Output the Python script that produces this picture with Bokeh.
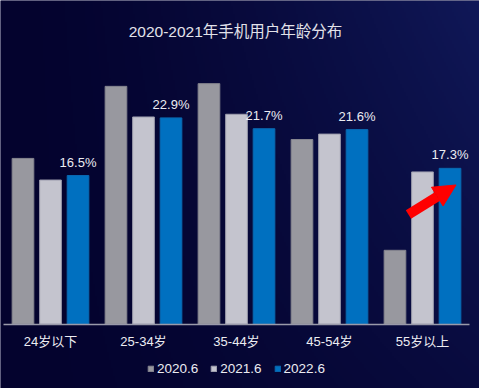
import numpy as np
from bokeh.plotting import figure
from bokeh.models import (ColumnDataSource, Range1d, FixedTicker, Legend, LegendItem, LabelSet,
                          Label, Arrow, NormalHead)
from bokeh.transform import dodge
from bokeh.core.properties import value
from bokeh.embed import file_html
from bokeh.resources import INLINE

# ---- data ----
title_text = "2020-2021年手机用户年龄分布"
categories = ["24岁以下", "25-34岁", "35-44岁", "45-54岁", "55岁以上"]
series_names = ["2020.6", "2021.6", "2022.6"]
v2020 = [18.4, 26.4, 26.7, 20.5, 8.2]
v2021 = [16.0, 23.0, 23.3, 21.1, 16.9]
v2022 = [16.5, 22.9, 21.7, 21.6, 17.3]
value_labels = ["16.5%", "22.9%", "21.7%", "21.6%", "17.3%"]

FONT = "Liberation Sans, Noto Sans CJK SC, sans-serif"
BG = "#06073a"
TXT = "#ececf2"
C2020, C2021, C2022 = "#98989f", "#c4c4ce", "#0070c0"

W, H = 479, 388
X0, X1 = -0.5376, 4.613
Y0, Y1 = -7.14, 35.93

xs = list(range(len(categories)))
src = ColumnDataSource(dict(x=xs, v2020=v2020, v2021=v2021, v2022=v2022, lbl=value_labels))

p = figure(width=W, height=H, x_range=Range1d(X0, X1), y_range=Range1d(Y0, Y1),
           output_backend="svg", toolbar_location=None, y_axis_location=None, title_location=None,
           min_border_left=0, min_border_right=0, min_border_top=0, min_border_bottom=0,
           background_fill_color=BG, border_fill_color=BG, outline_line_color=None)
p.xgrid.visible = False
p.ygrid.visible = False

# background gradient (dark navy left -> lighter blue top-right)
gh, gw = H // 2, W // 2
fx = np.linspace(0, 1, gw)[None, :]
fy = np.linspace(0, 1, gh)[:, None]          # 0 bottom, 1 top
t = (fx ** 1.5) * (0.4 + 0.6 * fy)
dark = np.array([4, 3, 46]); light = np.array([16, 24, 88])
rgb = dark[None, None, :] + t[:, :, None] * (light - dark)[None, None, :]
img = np.empty((gh, gw), dtype=np.uint32)
view = img.view(dtype=np.uint8).reshape((gh, gw, 4))
view[:, :, 0] = rgb[:, :, 0]; view[:, :, 1] = rgb[:, :, 1]; view[:, :, 2] = rgb[:, :, 2]; view[:, :, 3] = 255
p.image_rgba(image=[img], x=X0, y=Y0, dw=X1 - X0, dh=Y1 - Y0)

title = Label(x=W / 2 - 4.5, y=H - 31, x_units="screen", y_units="screen", text=title_text,
              text_align="center", text_baseline="middle",
              text_font=FONT, text_font_size="15.5px", text_color="#e2e2ea")
p.add_layout(title)

off, w = 0.296, 0.233
r1 = p.vbar(x=dodge("x", -off, range=p.x_range), top="v2020", width=w, source=src,
            fill_color=C2020, line_color="#85858f", line_width=1)
r2 = p.vbar(x=dodge("x", 0, range=p.x_range), top="v2021", width=w, source=src,
            fill_color=C2021, line_color="#9e9eae", line_width=1)
r3 = p.vbar(x=dodge("x", off, range=p.x_range), top="v2022", width=w, source=src,
            fill_color=C2022, line_color="#0a68b0", line_width=1)

labels = LabelSet(x=dodge("x", off, range=p.x_range), y="v2022", text="lbl", source=src,
                  text_align="center", text_baseline="alphabetic", y_offset=9,
                  text_font=value(FONT), text_font_size="13px", text_color=TXT)
p.add_layout(labels)

ax = p.xaxis[0]
ax.fixed_location = 0
ax.bounds = (-0.505, 4.505)
ax.ticker = FixedTicker(ticks=xs)
ax.major_label_overrides = {i: c for i, c in zip(xs, categories)}
ax.major_label_text_font = FONT
ax.major_label_text_font_size = "13px"
ax.major_label_text_color = TXT
ax.major_label_standoff = 4
ax.major_tick_line_color = None
ax.minor_tick_line_color = None
ax.axis_line_color = "#9a9aaa"
ax.axis_line_width = 1.5

arrow = Arrow(end=NormalHead(size=22, fill_color="#ff0000", line_color="#ff0000"),
              x_start=3.849, y_start=12.18, x_end=4.36, y_end=15.45,
              line_color="#ff0000", line_width=10)
p.add_layout(arrow)

legend = Legend(items=[LegendItem(label=series_names[0], renderers=[r1]),
                       LegendItem(label=series_names[1], renderers=[r2]),
                       LegendItem(label=series_names[2], renderers=[r3])],
                orientation="horizontal", location=(147, 12),
                glyph_width=7, glyph_height=7, label_height=13,
                label_text_font=FONT, label_text_font_size="13.5px", label_text_color=TXT,
                label_standoff=3, spacing=12, padding=4, margin=0,
                background_fill_alpha=0, border_line_color=None)
p.add_layout(legend)

open("out.html", "w").write(file_html(p, INLINE))
